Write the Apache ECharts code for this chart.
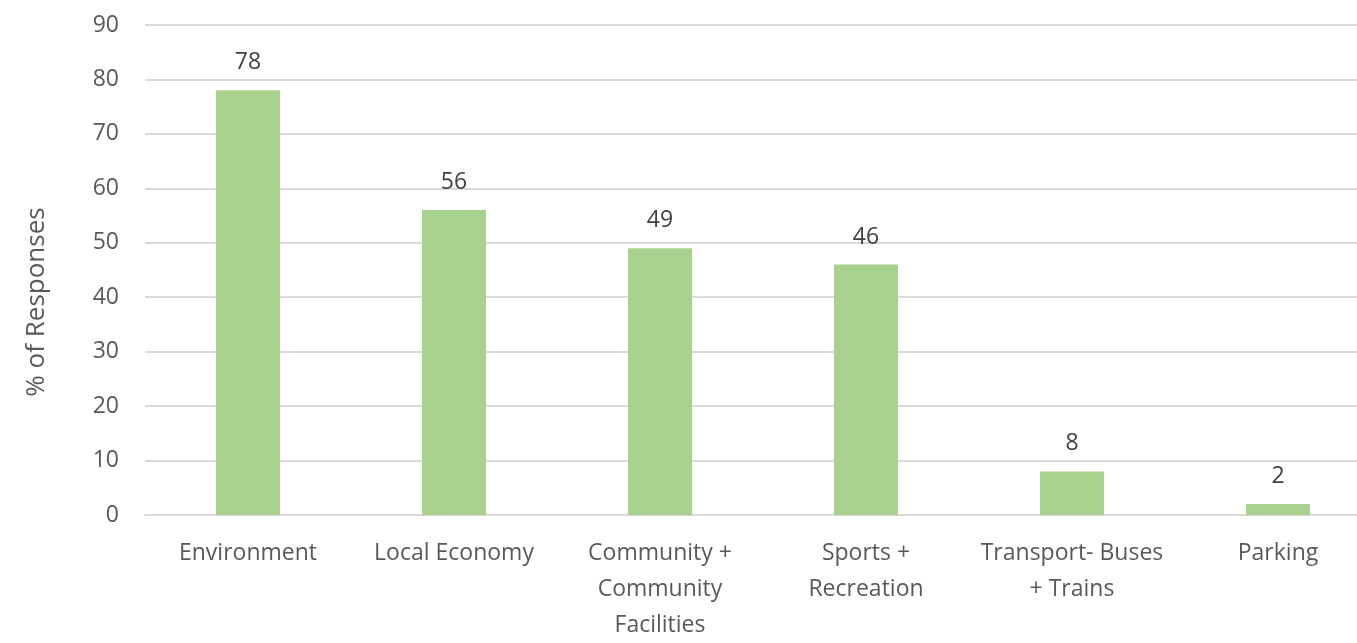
<!DOCTYPE html>
<html>
<head>
<meta charset="utf-8">
<script src="https://cdn.jsdelivr.net/npm/echarts@6/dist/echarts.min.js"></script>
<style>html,body{margin:0;padding:0;background:#fff;overflow:hidden;width:1357px;height:643px;}#chart{width:1381px;height:643px;}</style>
</head>
<body>
<div id="chart"></div>
<script>
const categories = ["Environment", "Local Economy", "Community +\nCommunity\nFacilities", "Sports +\nRecreation", "Transport- Buses\n+ Trains", "Parking"];
const values = [78, 56, 49, 46, 8, 2];
const yTicks = { min: 0, max: 90, interval: 10 };
const yTitle = '% of Responses';

const chart = echarts.init(document.getElementById('chart'));
const font = '"Open Sans", Lato, sans-serif';
chart.setOption({
  animation: false,
  grid: { left: 145, right: 0, top: 25, bottom: 119, containLabel: false },
  graphic: [{
    type: 'text',
    x: 37, y: 302,
    rotation: Math.PI / 2,
    style: { text: yTitle, fill: '#595959', fontSize: 26, fontFamily: font, align: 'center', verticalAlign: 'middle' }
  }],
  xAxis: {
    type: 'category',
    data: categories,
    axisLine: { show: true, lineStyle: { color: '#D9D9D9', width: 2 } },
    axisTick: { show: false },
    axisLabel: { color: '#595959', fontSize: 23, fontFamily: font, lineHeight: 36, margin: 20, interval: 0 }
  },
  yAxis: {
    type: 'value',
    min: yTicks.min, max: yTicks.max, interval: yTicks.interval,
    axisLine: { show: false },
    axisTick: { show: false },
    splitLine: { lineStyle: { color: '#D9D9D9', width: 2 } },
    axisLabel: { color: '#595959', fontSize: 23, fontFamily: font, margin: 26 }
  },
  series: [{
    type: 'bar',
    data: values,
    barWidth: 64,
    itemStyle: { color: '#A9D18E' },
    label: { show: true, position: 'top', distance: 16, color: '#404040', fontSize: 23, fontFamily: font }
  }]
});
</script>
</body>
</html>
